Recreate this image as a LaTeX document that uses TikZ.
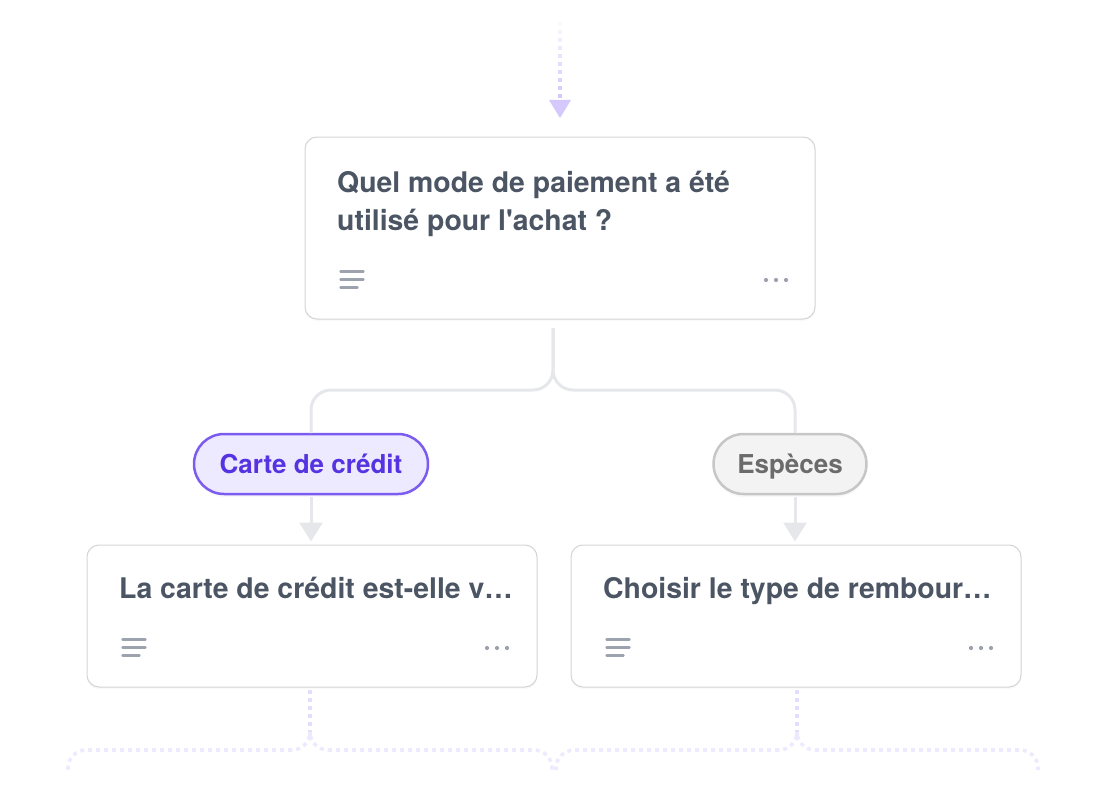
\documentclass[tikz,border=0pt]{standalone}
\usepackage{fontspec}
\setmainfont{TeX Gyre Heros}[Ligatures=TeXOff]
\usetikzlibrary{arrows.meta,shadows}
\definecolor{txt}{HTML}{4B5563}
\definecolor{cardline}{HTML}{D4D4D8}
\definecolor{iconc}{HTML}{9CA3AF}
\definecolor{conn}{HTML}{E5E7EB}
\definecolor{vio}{HTML}{D4C8FD}
\definecolor{viol}{HTML}{EEEAFD}
\definecolor{viom}{HTML}{E4DEFD}
\definecolor{pvfill}{HTML}{EDE9FE}
\definecolor{pvline}{HTML}{7C5CF0}
\definecolor{pvtxt}{HTML}{5533E0}
\definecolor{pgfill}{HTML}{F3F3F3}
\definecolor{pgline}{HTML}{C6C6C6}
\definecolor{pgtxt}{HTML}{6B6B6B}
\newcommand\cardicons[3]{% x of lines, x of first dot, y of middle line
  \draw[iconline] (#1,#3-8) -- ++(23,0);
  \draw[iconline] (#1,#3) -- ++(23,0);
  \draw[iconline] (#1,#3+8) -- ++(17,0);
  \fill[iconc] (#2,#3+0.5) circle (2.1) (#2+10,#3+0.5) circle (2.1) (#2+20,#3+0.5) circle (2.1);
}
\begin{document}
\begin{tikzpicture}[x=1pt,y=-1pt,
  card/.style={draw=cardline,line width=1pt,fill=white,rounded corners=12pt,inner sep=0pt,
    drop shadow={shadow xshift=0pt,shadow yshift=-2pt,opacity=0.05}},
  title/.style={anchor=base west,inner sep=0pt,text=txt,font=\bfseries\fontsize{28.4}{30}\selectfont},
  iconline/.style={draw=iconc,line width=2.4pt,line cap=round},
  pill/.style={rounded corners=30pt,minimum height=60pt,line width=2.5pt,inner sep=0pt,
    font=\bfseries\fontsize{26}{28}\selectfont,
    drop shadow={shadow xshift=0pt,shadow yshift=-3pt,opacity=0.06}},
  pillv/.style={pill,draw=pvline,fill=pvfill,text=pvtxt,minimum width=234pt},
  pillg/.style={pill,draw=pgline,fill=pgfill,text=pgtxt,minimum width=153pt},
  connline/.style={draw=conn,line width=3pt},
  dots/.style={line width=3.6pt,dash pattern=on 4pt off 4pt},
]
\useasboundingbox (0,0) rectangle (1120,800);

% cards
\node[card,minimum width=510pt,minimum height=182pt] (q) at (560,228) {};
\node[card,minimum width=450pt,minimum height=142pt] (c1) at (312,616) {};
\node[card,minimum width=450pt,minimum height=142pt] (c2) at (796,616) {};

\node[title] (qt1) at (337,192) {Quel mode de paiement a été};
\node[title] (qt2) at (337,230) {utilisé pour l'achat ?};
\node[title] (c1t) at (119,598) {La carte de crédit est-elle v…};
\node[title] (c2t) at (603,598) {Choisir le type de rembour…};

\cardicons{340.5}{766}{279.5}
\cardicons{122.5}{487}{647.5}
\cardicons{606.5}{971}{647.5}

% pills
\node[pillv] (cc) at (311,464) {\raisebox{0pt}[\height][0pt]{Carte de crédit}};
\node[pillg] (esp) at (790,464) {\raisebox{0pt}[\height][0pt]{Espèces}};

% top incoming dotted arrow
\foreach \i in {0,...,9}{
  \pgfmathsetmacro\p{12+\i*9.8}
  \fill[vio!\p!white] (558,22+\i*8) rectangle ++(4,4);
}
\coordinate (topin) at (560,100);
\fill[vio] (549,100) -- (571,100) -- (560,118) -- cycle;

% connectors from question
\coordinate (stem) at (553,328);
\coordinate (lin) at (311,433);
\coordinate (rin) at (795,433);
\draw[connline,rounded corners=20pt] (stem) -- (553,390) -- (311,390) -- (lin);
\draw[connline,rounded corners=20pt] (stem) -- (553,390) -- (795,390) -- (rin);
\coordinate (lout) at (311,497);
\coordinate (rout) at (795,497);
\draw[connline,-{Triangle[width=23pt,length=19pt]},shorten >=3pt] (lout) -- (lout |- c1.north);
\draw[connline,-{Triangle[width=23pt,length=19pt]},shorten >=3pt] (rout) -- (rout |- c2.north);

% outgoing dotted connectors
\coordinate (l0) at (310,690);
\coordinate (r0) at (797,690);
\draw[dots,draw=viom] (l0) -- (310,736);
\draw[dots,draw=viom] (r0) -- (797,736);
\draw[dots,draw=viol,rounded corners=18pt] (310,736) -- (310,750) -- (68,750) -- (68,770);
\draw[dots,draw=viol,rounded corners=18pt] (310,736) -- (310,750) -- (552,750) -- (552,770);
\draw[dots,draw=viol,rounded corners=18pt] (797,736) -- (797,750) -- (556,750) -- (556,770);
\draw[dots,draw=viol,rounded corners=18pt] (797,736) -- (797,750) -- (1038,750) -- (1038,770);
\end{tikzpicture}
\end{document}
